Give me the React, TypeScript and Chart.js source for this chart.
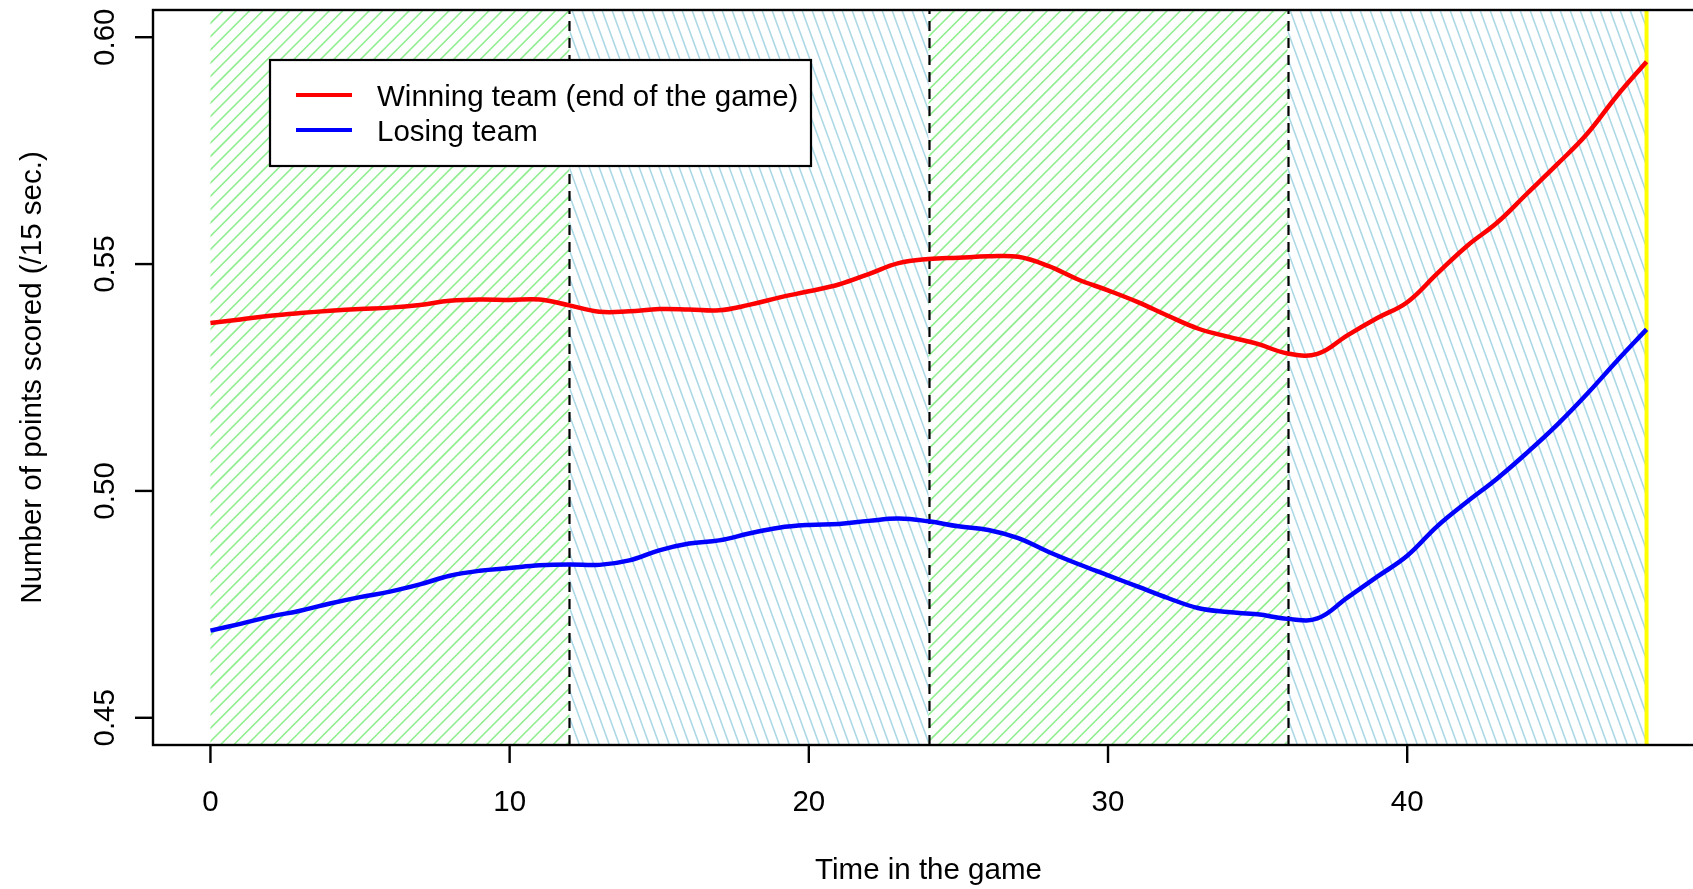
import React, { useEffect, useRef } from "react";
import { Chart, registerables } from "chart.js";

Chart.register(...registerables);

// ---- data ----
const minutes = [
  0, 1, 2, 3, 4, 5, 6, 7, 8, 9, 10, 11, 12, 13, 14, 15, 16, 17, 18, 19, 20, 21, 22, 23, 24,
  25, 26, 27, 28, 29, 30, 31, 32, 33, 34, 35, 36, 37, 38, 39, 40, 41, 42, 43, 44, 45, 46, 47, 48,
];
const winningTeam = [
  0.537, 0.5378, 0.5386, 0.5392, 0.5397, 0.5401, 0.5404, 0.541, 0.5419, 0.5422, 0.5421, 0.5422,
  0.5409, 0.5395, 0.5396, 0.5401, 0.54, 0.5398, 0.541, 0.5426, 0.544, 0.5455, 0.5478, 0.5502,
  0.5511, 0.5514, 0.5517, 0.5516, 0.5496, 0.5466, 0.5442, 0.5416, 0.5386, 0.5358, 0.534, 0.5324,
  0.5303, 0.5302, 0.5343, 0.5381, 0.5416, 0.5479, 0.554, 0.5591, 0.5655, 0.5719, 0.5786, 0.587,
  0.5946,
];
const losingTeam = [
  0.4692, 0.4707, 0.4723, 0.4736, 0.4752, 0.4766, 0.4778, 0.4794, 0.4813, 0.4824, 0.483, 0.4836,
  0.4838, 0.4837, 0.4847, 0.4869, 0.4884, 0.4891, 0.4906, 0.4919, 0.4925, 0.4927, 0.4934, 0.4939,
  0.4933, 0.4922, 0.4914, 0.4896, 0.4866, 0.4839, 0.4814, 0.4789, 0.4764, 0.4742, 0.4733, 0.4728,
  0.4718, 0.4719, 0.4765, 0.4811, 0.4857, 0.4922, 0.4976, 0.5027, 0.5084, 0.5145, 0.5213, 0.5286,
  0.5356,
];
const seriesLabels = ["Winning team (end of the game)", "Losing team"];
const seriesColors = ["#FF0000", "#0000FF"];
const xTicks = [0, 10, 20, 30, 40];
const yTicks = [0.45, 0.5, 0.55, 0.6];
const yTickLabels = ["0.45", "0.50", "0.55", "0.60"];
const quarterStarts = [0, 12, 24, 36];
const quarterEnds = [12, 24, 36, 48];
const quarterBreaks = [12, 24, 36];
const gameEnd = 48;
const xTitle = "Time in the game";
const yTitle = "Number of points scored (/15 sec.)";

const FONT = '29.5px "Liberation Sans", Arial, Helvetica, sans-serif';

const rPlotPlugin = {
  id: "rPlot",
  beforeDatasetsDraw(chart: any) {
    const { ctx, chartArea: a, scales } = chart;
    const x = scales.x;
    ctx.save();
    // hatched quarter regions
    quarterStarts.forEach((s, i) => {
      const x0 = x.getPixelForValue(s);
      const x1 = x.getPixelForValue(quarterEnds[i]);
      ctx.save();
      ctx.beginPath();
      ctx.rect(x0, a.top, x1 - x0, a.bottom - a.top);
      ctx.clip();
      const green = i % 2 === 0;
      ctx.strokeStyle = green ? "#90EE90" : "#ADD8E6";
      ctx.lineWidth = 1.6;
      const h = a.bottom - a.top;
      ctx.beginPath();
      if (green) {
        const step = 13.3;
        for (let bx = x0 - h - step; bx < x1 + step; bx += step) {
          ctx.moveTo(bx, a.bottom);
          ctx.lineTo(bx + h, a.top);
        }
      } else {
        const step = 10;
        const dx = h / Math.tan((70 * Math.PI) / 180);
        for (let tx = x0 - dx - step; tx < x1 + step; tx += step) {
          ctx.moveTo(tx, a.top);
          ctx.lineTo(tx + dx, a.bottom);
        }
      }
      ctx.stroke();
      ctx.restore();
    });
    // dashed quarter breaks
    ctx.strokeStyle = "#000";
    ctx.lineWidth = 2.2;
    ctx.setLineDash([10, 7]);
    quarterBreaks.forEach((q) => {
      const px = Math.round(x.getPixelForValue(q)) + 0.5;
      ctx.beginPath();
      ctx.moveTo(px, a.bottom);
      ctx.lineTo(px, a.top);
      ctx.stroke();
    });
    ctx.setLineDash([]);
    // end of game
    ctx.strokeStyle = "#FFFF00";
    ctx.lineWidth = 4;
    const ex = x.getPixelForValue(gameEnd);
    ctx.beginPath();
    ctx.moveTo(ex, a.top);
    ctx.lineTo(ex, a.bottom);
    ctx.stroke();
    ctx.restore();
  },
  afterDatasetsDraw(chart: any) {
    const { ctx, chartArea: a, scales } = chart;
    const x = scales.x;
    const y = scales.y;
    ctx.save();
    ctx.strokeStyle = "#000";
    ctx.fillStyle = "#000";
    ctx.lineWidth = 2.4;
    // box
    ctx.strokeRect(a.left, a.top, a.right - a.left, a.bottom - a.top);
    ctx.font = FONT;
    // x ticks
    ctx.textAlign = "center";
    ctx.textBaseline = "alphabetic";
    xTicks.forEach((t) => {
      const px = x.getPixelForValue(t);
      ctx.beginPath();
      ctx.moveTo(px, a.bottom);
      ctx.lineTo(px, a.bottom + 18);
      ctx.stroke();
      ctx.fillText(String(t), px, 811);
    });
    // y ticks
    yTicks.forEach((t, i) => {
      const py = y.getPixelForValue(t);
      ctx.beginPath();
      ctx.moveTo(a.left, py);
      ctx.lineTo(a.left - 18, py);
      ctx.stroke();
      ctx.save();
      ctx.translate(114, py);
      ctx.rotate(-Math.PI / 2);
      ctx.fillText(yTickLabels[i], 0, 0);
      ctx.restore();
    });
    // titles
    ctx.fillText(xTitle, (a.left + a.right) / 2, 879);
    ctx.save();
    ctx.translate(41, (a.top + a.bottom) / 2);
    ctx.rotate(-Math.PI / 2);
    ctx.fillText(yTitle, 0, 0);
    ctx.restore();
    // legend
    const lx = 270, ly = 60, lw = 541, lh = 106;
    ctx.fillStyle = "#FFFFFF";
    ctx.fillRect(lx, ly, lw, lh);
    ctx.strokeStyle = "#000";
    ctx.lineWidth = 2.2;
    ctx.strokeRect(lx, ly, lw, lh);
    const rows = [95, 130];
    const bases = [106, 141];
    seriesLabels.forEach((lab, i) => {
      ctx.strokeStyle = seriesColors[i];
      ctx.lineWidth = 4;
      ctx.beginPath();
      ctx.moveTo(296, rows[i]);
      ctx.lineTo(352, rows[i]);
      ctx.stroke();
      ctx.fillStyle = "#000";
      ctx.textAlign = "left";
      ctx.fillText(lab, 377, bases[i]);
    });
    ctx.restore();
  },
};

export default function App() {
  const ref = useRef<HTMLCanvasElement | null>(null);
  useEffect(() => {
    if (!ref.current) return;
    const chart = new Chart(ref.current, {
      type: "line",
      data: {
        datasets: [
          {
            label: seriesLabels[0],
            data: minutes.map((m, i) => ({ x: m, y: winningTeam[i] })),
            borderColor: seriesColors[0],
            borderWidth: 4.5,
            pointRadius: 0,
            tension: 0.4,
            fill: false,
          },
          {
            label: seriesLabels[1],
            data: minutes.map((m, i) => ({ x: m, y: losingTeam[i] })),
            borderColor: seriesColors[1],
            borderWidth: 4.5,
            pointRadius: 0,
            tension: 0.4,
            fill: false,
          },
        ],
      },
      options: {
        responsive: false,
        animation: false,
        devicePixelRatio: 1,
        layout: { padding: { left: 153, top: 10, right: 16, bottom: 144 } },
        scales: {
          x: { type: "linear", min: -1.92, max: 49.92, display: false },
          y: { type: "linear", min: 0.444, max: 0.606, display: false },
        },
        plugins: { legend: { display: false }, tooltip: { enabled: false } },
      },
      plugins: [rPlotPlugin],
    } as any);
    return () => chart.destroy();
  }, []);
  return (
    <div
      style={{
        position: "fixed",
        left: 0,
        top: 0,
        width: 1693,
        height: 889,
        overflow: "hidden",
        background: "#fff",
      }}
    >
      <canvas ref={ref} width={1720} height={889} style={{ display: "block" }} />
    </div>
  );
}
